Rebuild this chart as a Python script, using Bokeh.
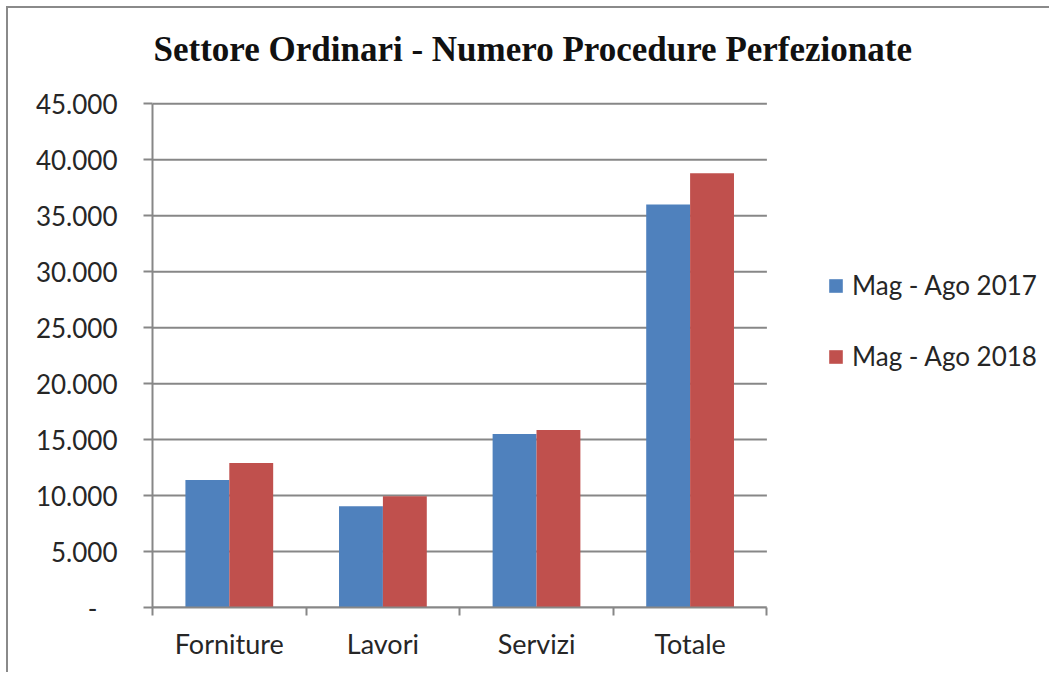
from bokeh.plotting import figure
from bokeh.models import Range1d, FixedTicker, Legend, LegendItem, ColumnDataSource, Label
from bokeh.embed import file_html
from bokeh.resources import INLINE

title_text = "Settore Ordinari - Numero Procedure Perfezionate"
categories = ["Forniture", "Lavori", "Servizi", "Totale"]
series_names = ["Mag - Ago 2017", "Mag - Ago 2018"]
values_2017 = [11400, 9050, 15500, 36000]
values_2018 = [12900, 9950, 15850, 38800]
colors = ["#4F81BD", "#C0504D"]
y_ticks = [0, 5000, 10000, 15000, 20000, 25000, 30000, 35000, 40000, 45000]

GRID = "#878787"
TXT = "#262626"
FONT = "Lato"

# layout constants (pixels)
W, H = 1043, 666
LEFT, BOTTOM = 144, 67
PLOT_TOP = 95.3                    # where the top of the value axis sits
CAT_PX = 153.6                     # width of one category on screen
frame_w = W - LEFT
frame_h = H - BOTTOM
x_end = frame_w / CAT_PX           # room to the right holds the legend
y_max = max(y_ticks)
y_end = y_max * frame_h / (frame_h - PLOT_TOP)   # room above holds the title

p = figure(width=W, height=H, output_backend="svg", toolbar_location=None,
           x_range=Range1d(0, x_end), y_range=Range1d(0, y_end),
           min_border_left=LEFT, min_border_right=0, min_border_top=0, min_border_bottom=BOTTOM,
           styles={"margin-left": "6px", "margin-top": "6px",
                   "border-left": "2px solid #8a8a8a", "border-top": "2px solid #8a8a8a"})

p.outline_line_color = None
p.background_fill_color = "white"
p.border_fill_color = "white"

p.add_layout(Label(x=1, y=frame_h - 41, x_units="screen", y_units="screen",
                   text=title_text, text_font="Liberation Serif", text_font_style="bold",
                   text_font_size="35px", text_color="#111111",
                   text_align="left", text_baseline="alphabetic"))

# horizontal gridlines, limited to the category area
n = len(categories)
p.xgrid.visible = False
p.ygrid.visible = False
p.segment(x0=[0] * len(y_ticks), x1=[n] * len(y_ticks), y0=y_ticks, y1=y_ticks,
          line_color=GRID, line_width=2)

group_w = 1 / 1.75
bar_w = group_w / 2
renderers = []
for k, vals in enumerate([values_2017, values_2018]):
    xs = [i + 0.5 - group_w / 2 + bar_w * (k + 0.5) for i in range(n)]
    src = ColumnDataSource(dict(x=xs, top=vals))
    r = p.vbar(x="x", top="top", width=bar_w, bottom=0, source=src,
               fill_color=colors[k], line_color=None)
    renderers.append(r)

# y axis
ya = p.yaxis[0]
ya.ticker = FixedTicker(ticks=y_ticks)
ya.bounds = (0, y_max)
ya.major_label_overrides = {v: (f"{v:,}".replace(",", ".") if v else "-\u00a0\u00a0\u00a0") for v in y_ticks}
ya.axis_line_color = GRID
ya.axis_line_width = 2
ya.major_tick_line_color = GRID
ya.major_tick_line_width = 2
ya.major_tick_out = 9
ya.major_tick_in = 0
ya.minor_tick_line_color = None
ya.major_label_text_font = FONT
ya.major_label_text_font_size = "26px"
ya.major_label_text_color = TXT
ya.major_label_standoff = 26

# x axis
xa = p.xaxis[0]
centers = [i + 0.5 for i in range(n)]
xa.ticker = FixedTicker(ticks=centers, minor_ticks=list(range(n + 1)))
xa.bounds = (0, n)
xa.major_label_overrides = {c: name for c, name in zip(centers, categories)}
xa.axis_line_color = GRID
xa.axis_line_width = 2
xa.major_tick_line_color = None
xa.major_tick_out = 0
xa.major_tick_in = 0
xa.minor_tick_line_color = GRID
xa.minor_tick_line_width = 2
xa.minor_tick_out = 8
xa.minor_tick_in = 0
xa.major_label_text_font = FONT
xa.major_label_text_font_size = "27px"
xa.major_label_text_color = TXT
xa.major_label_standoff = 11

legend = Legend(items=[LegendItem(label=s, renderers=[r]) for s, r in zip(series_names, renderers)],
                location=(675, 235), orientation="vertical",
                glyph_width=17, glyph_height=17, label_height=30, spacing=39,
                label_standoff=8, padding=0, margin=0,
                border_line_color=None, background_fill_alpha=0,
                label_text_font=FONT, label_text_font_size="26px", label_text_color=TXT)
p.add_layout(legend, "center")

open("out.html", "w").write(file_html(p, INLINE))
